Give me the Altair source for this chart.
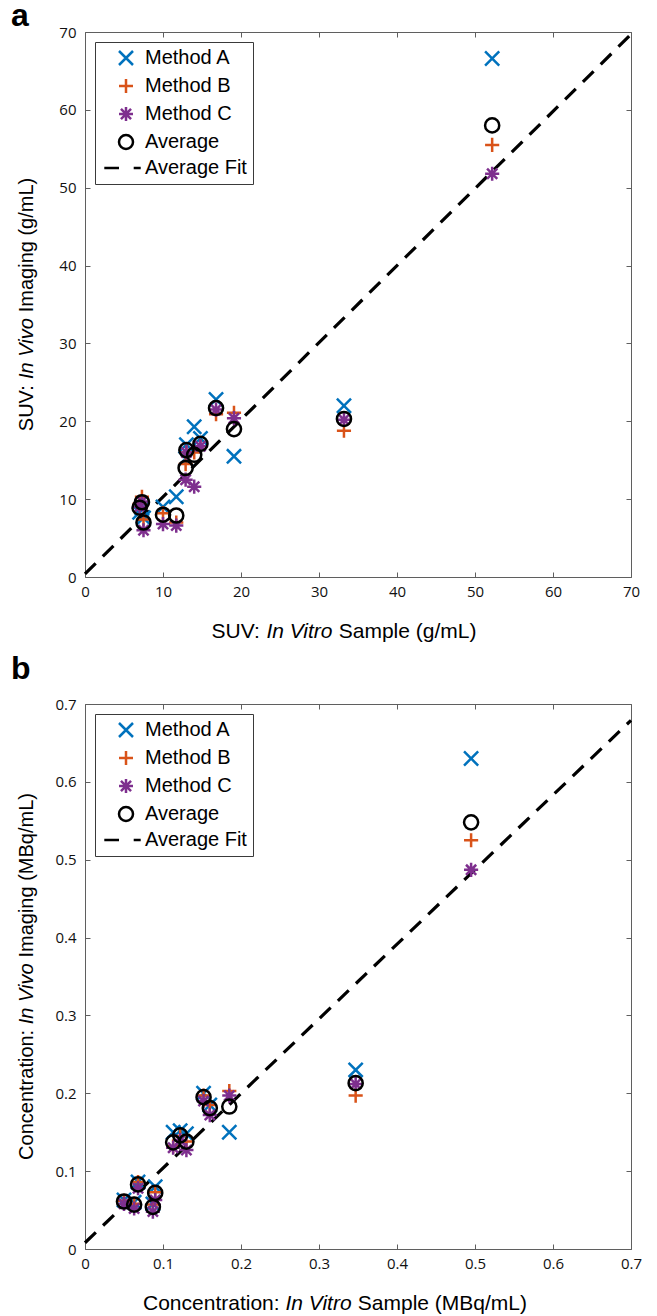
import altair as alt
import pandas as pd

# ---------------- data ----------------
series = ["Method A", "Method B", "Method C", "Average", "Average Fit"]
colors = ["#0072BD", "#D95319", "#7E2F8E", "#000000", "#000000"]
shapes = [
    "M-1,-1L1,1M-1,1L1,-1",
    "M-1,0H1M0,-1V1",
    "M-1,0H1M0,-1V1M-0.72,-0.72L0.72,0.72M-0.72,0.72L0.72,-0.72",
    "circle",
    "M-3.1,0H-1M1.1,0H2.1",
]

# Panel a: SUV
suv_invitro = [7.3, 7.0, 7.5, 10.0, 11.7, 12.9, 13.0, 14.0, 14.8, 16.8, 19.1, 33.2, 52.2]
suv_a = [8.8, 8.3, 7.6, 9.0, 10.3, 15.2, 17.0, 19.3, 17.8, 22.8, 15.5, 22.0, 66.6]
suv_b = [10.3, 9.4, 7.4, 8.2, 7.0, 14.5, 16.0, 16.0, 16.8, 20.9, 21.1, 18.8, 55.5]
suv_c = [9.7, 9.0, 6.0, 6.8, 6.6, 12.5, 16.0, 11.6, 16.8, 21.5, 20.4, 20.2, 51.8]
suv_avg = [9.6, 8.9, 7.0, 8.0, 7.9, 14.0, 16.3, 15.7, 17.1, 21.7, 19.0, 20.3, 58.0]
suv_fit_x = [0, 70]
suv_fit_y = [0.4, 69.7]
suv_ticks = [0, 10, 20, 30, 40, 50, 60, 70]

# Panel b: Concentration
conc_invitro = [0.050, 0.063, 0.068, 0.087, 0.090, 0.113, 0.122, 0.130, 0.152, 0.160, 0.185, 0.347, 0.495]
conc_a = [0.063, 0.060, 0.086, 0.058, 0.080, 0.150, 0.152, 0.148, 0.200, 0.185, 0.150, 0.230, 0.630]
conc_b = [0.062, 0.058, 0.086, 0.057, 0.073, 0.132, 0.145, 0.138, 0.197, 0.185, 0.203, 0.197, 0.525]
conc_c = [0.058, 0.052, 0.078, 0.048, 0.063, 0.130, 0.140, 0.127, 0.190, 0.172, 0.197, 0.212, 0.487]
conc_avg = [0.061, 0.057, 0.083, 0.054, 0.072, 0.137, 0.146, 0.138, 0.195, 0.181, 0.183, 0.213, 0.548]
conc_fit_x = [0, 0.7]
conc_fit_y = [0.008, 0.679]
conc_ticks = [0, 0.1, 0.2, 0.3, 0.4, 0.5, 0.6, 0.7]

# ---------------- styling helpers ----------------
W, H = 546, 545
TFONT = "Liberation Sans"
LFONT = "Open Sans"
LFS = 15
AXC = "#5f5f5f"

CW = {" ": 278, ":": 278, "(": 333, ")": 333, "/": 278,
      "A": 667, "B": 667, "C": 722, "I": 278, "L": 556, "M": 833, "S": 667, "U": 722, "V": 667,
      "a": 556, "c": 500, "e": 556, "g": 556, "i": 222, "l": 222, "m": 833, "n": 556, "o": 556,
      "p": 556, "q": 556, "r": 333, "t": 278, "v": 500}


def tw(s, fs):
    return sum(CW.get(ch, 556) for ch in s) * fs / 1000.0


def text_layer(t, x, y, fs, **kw):
    return alt.Chart(pd.DataFrame({"t": [t]})).mark_text(
        font=TFONT, fontSize=fs, color="black", **kw
    ).encode(text="t:N", x=alt.value(x), y=alt.value(y))


def x_title(parts, yoff, center, fs):
    sp = tw(" ", fs)
    total = sum(tw(t, fs) for t, _ in parts) + sp * (len(parts) - 1)
    x0 = center - total / 2
    out = []
    for t, it in parts:
        kw = {"fontStyle": "italic"} if it else {}
        out.append(text_layer(t, x0, H + yoff, fs, align="left", baseline="middle", **kw))
        x0 += tw(t, fs) + sp
    return out


def y_title(parts, xoff, fs):
    sp = tw(" ", fs)
    total = sum(tw(t, fs) for t, _ in parts) + sp * (len(parts) - 1)
    y0 = H / 2 + total / 2
    out = []
    for t, it in parts:
        kw = {"fontStyle": "italic"} if it else {}
        out.append(text_layer(t, xoff, y0, fs, align="left", baseline="middle", angle=270, **kw))
        y0 -= tw(t, fs) + sp
    return out


def long_df(xs, a, b, c, avg):
    rows = []
    for name, vals in [("Method A", a), ("Method B", b), ("Method C", c), ("Average", avg)]:
        for xv, yv in zip(xs, vals):
            rows.append({"x": xv, "y": yv, "series": name})
    return pd.DataFrame(rows)


def panel(xs, a, b, c, avg, fx, fy, ticks, dmax, lab_expr, xparts, yparts, letter, letter_y, xcenter):
    df = long_df(xs, a, b, c, avg)
    fit_df = pd.DataFrame({"x": fx, "y": fy})
    xsc = alt.Scale(domain=[0, dmax], nice=False, zero=False)
    ysc = alt.Scale(domain=[0, dmax], nice=False, zero=False)

    def ax(orient, labels=True):
        kw = dict(orient=orient, values=ticks, title=None, grid=False, domain=False,
                  offset=-5, tickSize=5, tickColor=AXC, tickWidth=1)
        if labels:
            kw.update(labelExpr=lab_expr, labelFont=LFONT, labelFontSize=LFS, labelColor="#111",
                      labelPadding=9 if orient == "left" else 7,
                      labelFlush=False, labelOverlap=False)
        else:
            kw.update(labels=False)
        return alt.Axis(**kw)

    leg = alt.Legend(
        title=None, orient="top-left", offset=10, padding=6,
        strokeColor="#3a3a3a", fillColor="white", cornerRadius=0,
        labelFont=TFONT, labelFontSize=20, labelColor="black", labelLimit=300,
        symbolSize=196, symbolStrokeWidth=2.5, symbolOffset=15, labelOffset=9,
        rowPadding=4,
    )

    fit = alt.Chart(fit_df).mark_line(
        color="black", strokeWidth=3.2, strokeDash=[15, 10]
    ).encode(
        x=alt.X("x:Q", scale=xsc, axis=ax("top", False)),
        y=alt.Y("y:Q", scale=ysc, axis=ax("right", False)),
    )

    pts = alt.Chart(df).mark_point(filled=False, size=200, strokeWidth=2.5, opacity=1).encode(
        x=alt.X("x:Q", scale=xsc, axis=ax("bottom")),
        y=alt.Y("y:Q", scale=ysc, axis=ax("left")),
        color=alt.Color("series:N", scale=alt.Scale(domain=series, range=colors), legend=leg),
        shape=alt.Shape("series:N", scale=alt.Scale(domain=series, range=shapes), legend=leg),
    )

    letter_layer = alt.Chart(pd.DataFrame({"t": [letter]})).mark_text(
        font=TFONT, fontSize=32, fontWeight="bold", color="black", align="left", baseline="alphabetic"
    ).encode(text="t:N", x=alt.value(-74), y=alt.value(letter_y))

    layers = [fit, pts] + x_title(xparts, 55, xcenter, 21) + y_title(yparts, -58, 20) + [letter_layer]
    return alt.layer(*layers).resolve_axis(x="independent", y="independent").properties(width=W, height=H)


pa = panel(
    suv_invitro, suv_a, suv_b, suv_c, suv_avg, suv_fit_x, suv_fit_y, suv_ticks, 70,
    "format(datum.value, 'd')",
    [("SUV:", False), ("In Vitro", True), ("Sample (g/mL)", False)],
    [("SUV:", False), ("In Vivo", True), ("Imaging (g/mL)", False)],
    "a", -6, 259,
)
pb = panel(
    conc_invitro, conc_a, conc_b, conc_c, conc_avg, conc_fit_x, conc_fit_y, conc_ticks, 0.7,
    "datum.value == 0 ? '0' : format(datum.value, '.1f')",
    [("Concentration:", False), ("In Vitro", True), ("Sample (MBq/mL)", False)],
    [("Concentration:", False), ("In Vivo", True), ("Imaging (MBq/mL)", False)],
    "b", -25, 250,
)

chart = alt.vconcat(pa, pb, spacing=127, bounds="flush").resolve_scale(
    color="independent", shape="independent"
).properties(
    padding={"left": 2, "top": -9, "right": 5, "bottom": 5}
).configure_view(stroke=AXC, strokeWidth=1)

chart.save("out.html", embed_options={"renderer": "svg", "actions": False})
